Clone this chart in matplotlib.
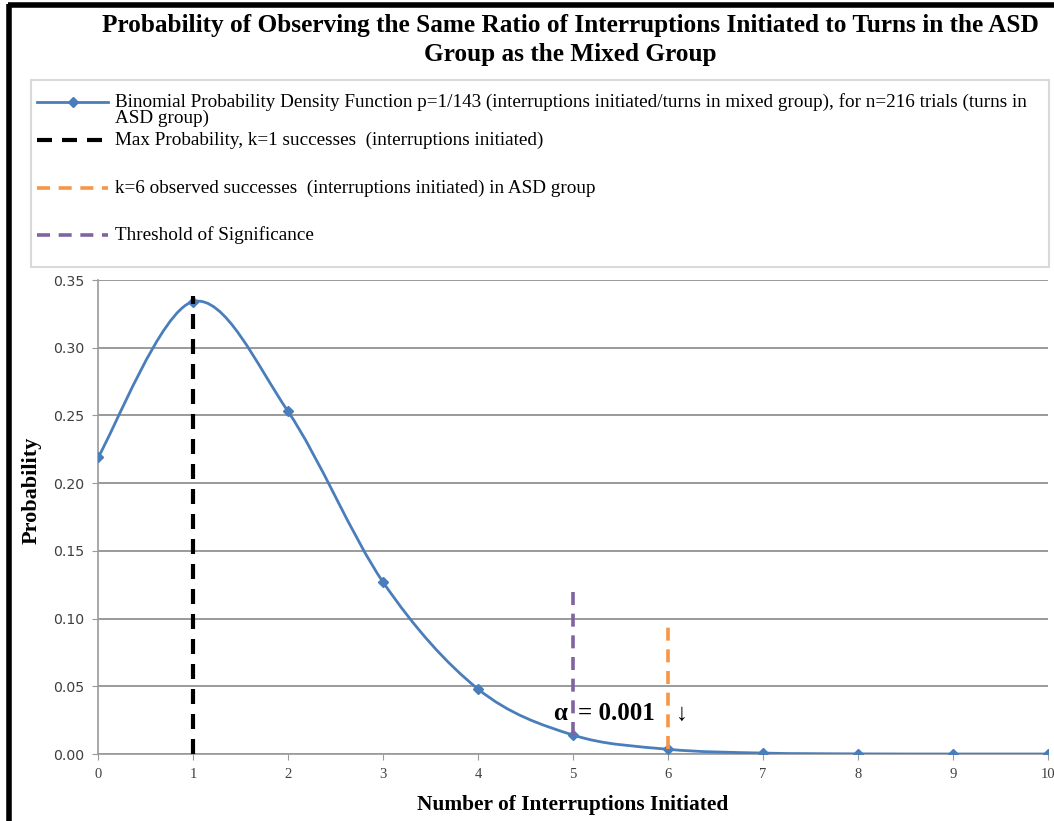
import matplotlib
matplotlib.use("Agg")
import matplotlib.pyplot as plt
from matplotlib.lines import Line2D
from matplotlib.patches import Rectangle, PathPatch
from matplotlib.path import Path

# binomial pmf, k = 0..10 (p = 1/143, n = 216)
k_values = [0, 1, 2, 3, 4, 5, 6, 7, 8, 9, 10]
probabilities = [0.219, 0.334, 0.253, 0.127, 0.048, 0.014, 0.0035, 0.0007, 0.0001, 0.0, 0.0]

# vertical reference lines: k position and (bottom, top)
max_k = 1
max_span = [0.0, 0.338]
threshold_k = 5
threshold_span = [0.014, 0.125]
observed_k = 6
observed_span = [0.0035, 0.097]

y_ticks = [0.00, 0.05, 0.10, 0.15, 0.20, 0.25, 0.30, 0.35]

title = ("Probability of Observing the Same Ratio of Interruptions Initiated to Turns in the ASD\n"
         "Group as the Mixed Group")
legend_labels = [
    "Binomial Probability Density Function p=1/143 (interruptions initiated/turns in mixed group), for n=216 trials (turns in\nASD group)",
    "Max Probability, k=1 successes  (interruptions initiated)",
    "k=6 observed successes  (interruptions initiated) in ASD group",
    "Threshold of Significance",
]
alpha_symbol = "α"
alpha_value = "= 0.001"

BLUE = "#4a7ebb"
ORANGE = "#f79646"
PURPLE = "#8064a2"
SERIF = ["Liberation Serif", "DejaVu Serif"]

W, H = 1054, 821


def px(x, y):
    """pixel position (from top-left) -> figure fraction"""
    return x / W, 1 - y / H


def smooth_path(xs, ys):
    # cubic bezier through every point, tangents from the neighbours
    pts = list(zip(xs, ys))
    n = len(pts)
    verts = [pts[0]]
    codes = [Path.MOVETO]
    for i in range(n - 1):
        p0 = pts[max(i - 1, 0)]
        p1 = pts[i]
        p2 = pts[i + 1]
        p3 = pts[min(i + 2, n - 1)]
        c1 = (p1[0] + (p2[0] - p0[0]) / 6, p1[1] + (p2[1] - p0[1]) / 6)
        c2 = (p2[0] - (p3[0] - p1[0]) / 6, p2[1] - (p3[1] - p1[1]) / 6)
        verts += [c1, c2, p2]
        codes += [Path.CURVE4] * 3
    return Path(verts, codes)


fig = plt.figure(figsize=(W / 100, H / 100), dpi=100)
ax = fig.add_axes([98 / W, 1 - 754 / H, 950 / W, 474 / H])

dash = (3.6, 2.4)
ax.add_patch(PathPatch(smooth_path(k_values, probabilities), fill=False,
                       edgecolor=BLUE, lw=2.0, zorder=3))
ax.plot(k_values, probabilities, ls="none", marker="D", ms=5, color=BLUE, zorder=4)
ax.plot([max_k, max_k], max_span, color="black", lw=3.0, dashes=dash, zorder=5)
ax.plot([threshold_k, threshold_k], threshold_span, color=PURPLE, lw=2.6, dashes=dash, zorder=5)
ax.plot([observed_k, observed_k], observed_span, color=ORANGE, lw=2.6, dashes=dash, zorder=5)

# significance label, split around the threshold line
ax.text(4.79, 0.030, alpha_symbol, fontsize=18, fontweight="bold", family=SERIF,
        ha="left", va="center", zorder=6)
ax.text(5.05, 0.030, alpha_value, fontsize=18, fontweight="bold", family=SERIF,
        ha="left", va="center", zorder=6)
ax.text(6.08, 0.029, "↓", fontsize=17, family=SERIF, ha="left", va="center", zorder=6)

ax.set_xlim(0, 10)
ax.set_ylim(0, 0.35)
ax.set_xticks(k_values)
ax.set_yticks(y_ticks)
ax.set_yticklabels([f"{v:.2f}" for v in y_ticks], fontsize=10.2, color="#404040",
                   family="DejaVu Sans")
ax.set_xticklabels([str(k) for k in k_values], fontsize=10.5, color="#404040", family=SERIF)
ax.grid(axis="y", color="#9a9a9a", lw=1.4)
ax.set_axisbelow(True)
for side in ("top", "right"):
    ax.spines[side].set_visible(False)
for side in ("left", "bottom"):
    ax.spines[side].set_color("#9a9a9a")
    ax.spines[side].set_linewidth(1.2)
ax.tick_params(direction="out", length=4, color="#9a9a9a", pad=6)

ax.set_xlabel("Number of Interruptions Initiated", fontsize=15.4, fontweight="bold",
              family=SERIF, labelpad=10)
ax.set_ylabel("Probability", fontsize=16, fontweight="bold", family=SERIF)
ax.yaxis.set_label_coords(-0.059, 0.557)

fig.text(*px(570, 40), title, fontsize=18.2, fontweight="bold", family=SERIF,
         ha="center", va="center", linespacing=1.3)

# legend box
lx0, ly0, lx1, ly1 = 31, 80, 1049, 267
fig.add_artist(Rectangle(px(lx0, ly1), (lx1 - lx0) / W, (ly1 - ly0) / H,
                         transform=fig.transFigure, facecolor="white",
                         edgecolor="#d9d9d9", lw=1.5))
handle_x = [px(37, 0)[0], px(108, 0)[0]]
rows = [102, 140, 188, 235]
text_y = [110, 140, 188, 235]
styles = [
    dict(color=BLUE, lw=2.0, marker="D", ms=5, markevery=[1]),
    dict(color="black", lw=3.0, dashes=(3.6, 2.4)),
    dict(color=ORANGE, lw=2.6, dashes=(3.6, 2.4)),
    dict(color=PURPLE, lw=2.6, dashes=(3.6, 2.4)),
]
for row, ty, label, st in zip(rows, text_y, legend_labels, styles):
    yy = px(0, row)[1]
    xs = [handle_x[0], (handle_x[0] + handle_x[1]) / 2, handle_x[1]]
    fig.add_artist(Line2D(xs, [yy] * 3, transform=fig.transFigure, **st))
    fig.text(px(115, 0)[0], px(0, ty)[1], label, fontsize=13.8, family=SERIF,
             ha="left", va="center", linespacing=0.95)

# outer black frame
fig.add_artist(Line2D([px(8, 0)[0], 1], [px(0, 5.5)[1]] * 2, transform=fig.transFigure,
                      color="black", lw=4, solid_capstyle="butt"))
fig.add_artist(Line2D([px(8.5, 0)[0]] * 2, [px(0, 4)[1], 0], transform=fig.transFigure,
                      color="black", lw=4, solid_capstyle="butt"))

fig.savefig("out.png", dpi=100)
